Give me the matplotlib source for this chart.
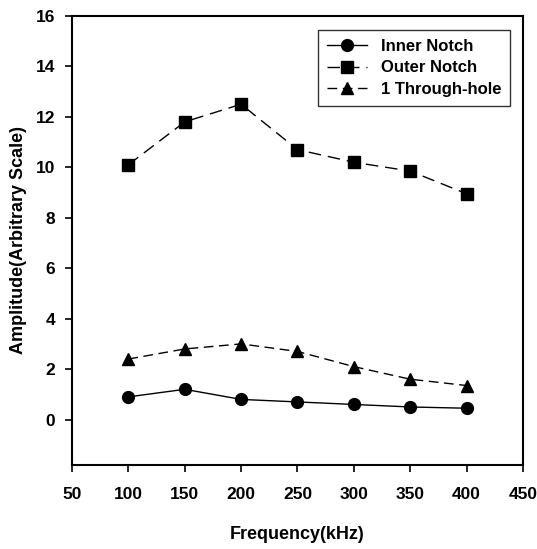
import matplotlib
matplotlib.use("Agg")
import matplotlib.pyplot as plt

freq = [100, 150, 200, 250, 300, 350, 400]
inner = [0.9, 1.2, 0.8, 0.7, 0.6, 0.5, 0.45]
outer = [10.1, 11.8, 12.5, 10.7, 10.2, 9.85, 8.95]
through = [2.4, 2.8, 3.0, 2.7, 2.1, 1.6, 1.35]
xticks = [50, 100, 150, 200, 250, 300, 350, 400, 450]
yticks = [0, 2, 4, 6, 8, 10, 12, 14, 16]

plt.rcParams['font.family'] = ['Liberation Sans', 'DejaVu Sans']
plt.rcParams['font.weight'] = 'bold'

fig = plt.figure(figsize=(5.37, 5.49), dpi=100)
ax = fig.add_axes([0.134, 0.153, 0.840, 0.818])

ax.plot(freq, inner, '-', color='black', lw=1.0, marker='o', ms=8.5, label='Inner Notch')
ax.plot(freq, outer, color='black', lw=1.0, marker='s', ms=8.5, dashes=(9, 5), label='Outer Notch')
ax.plot(freq, through, color='black', lw=1.0, marker='^', ms=8.5, dashes=(7, 4), label='1 Through-hole')

ax.set_xlim(50, 450)
ax.set_ylim(-1.8, 16)
ax.set_xticks(xticks)
ax.set_yticks(yticks)
ax.tick_params(axis='both', direction='out', length=5, width=1.2, labelsize=12.5)
ax.tick_params(axis='x', pad=11)
ax.tick_params(axis='y', pad=7)
for s in ax.spines.values():
    s.set_linewidth(1.5)

ax.set_xlabel('Frequency(kHz)', fontsize=13, fontweight='bold', labelpad=17)
ax.set_ylabel('Amplitude(Arbitrary Scale)', fontsize=13, fontweight='bold', labelpad=6)

leg = ax.legend(loc='upper right', bbox_to_anchor=(0.99, 0.988), fontsize=12, frameon=True,
                fancybox=False, edgecolor='black', handlelength=2.4, borderpad=0.55,
                labelspacing=0.4, handletextpad=0.8)
leg.get_frame().set_linewidth(1.0)

fig.savefig('out.png', dpi=100)
